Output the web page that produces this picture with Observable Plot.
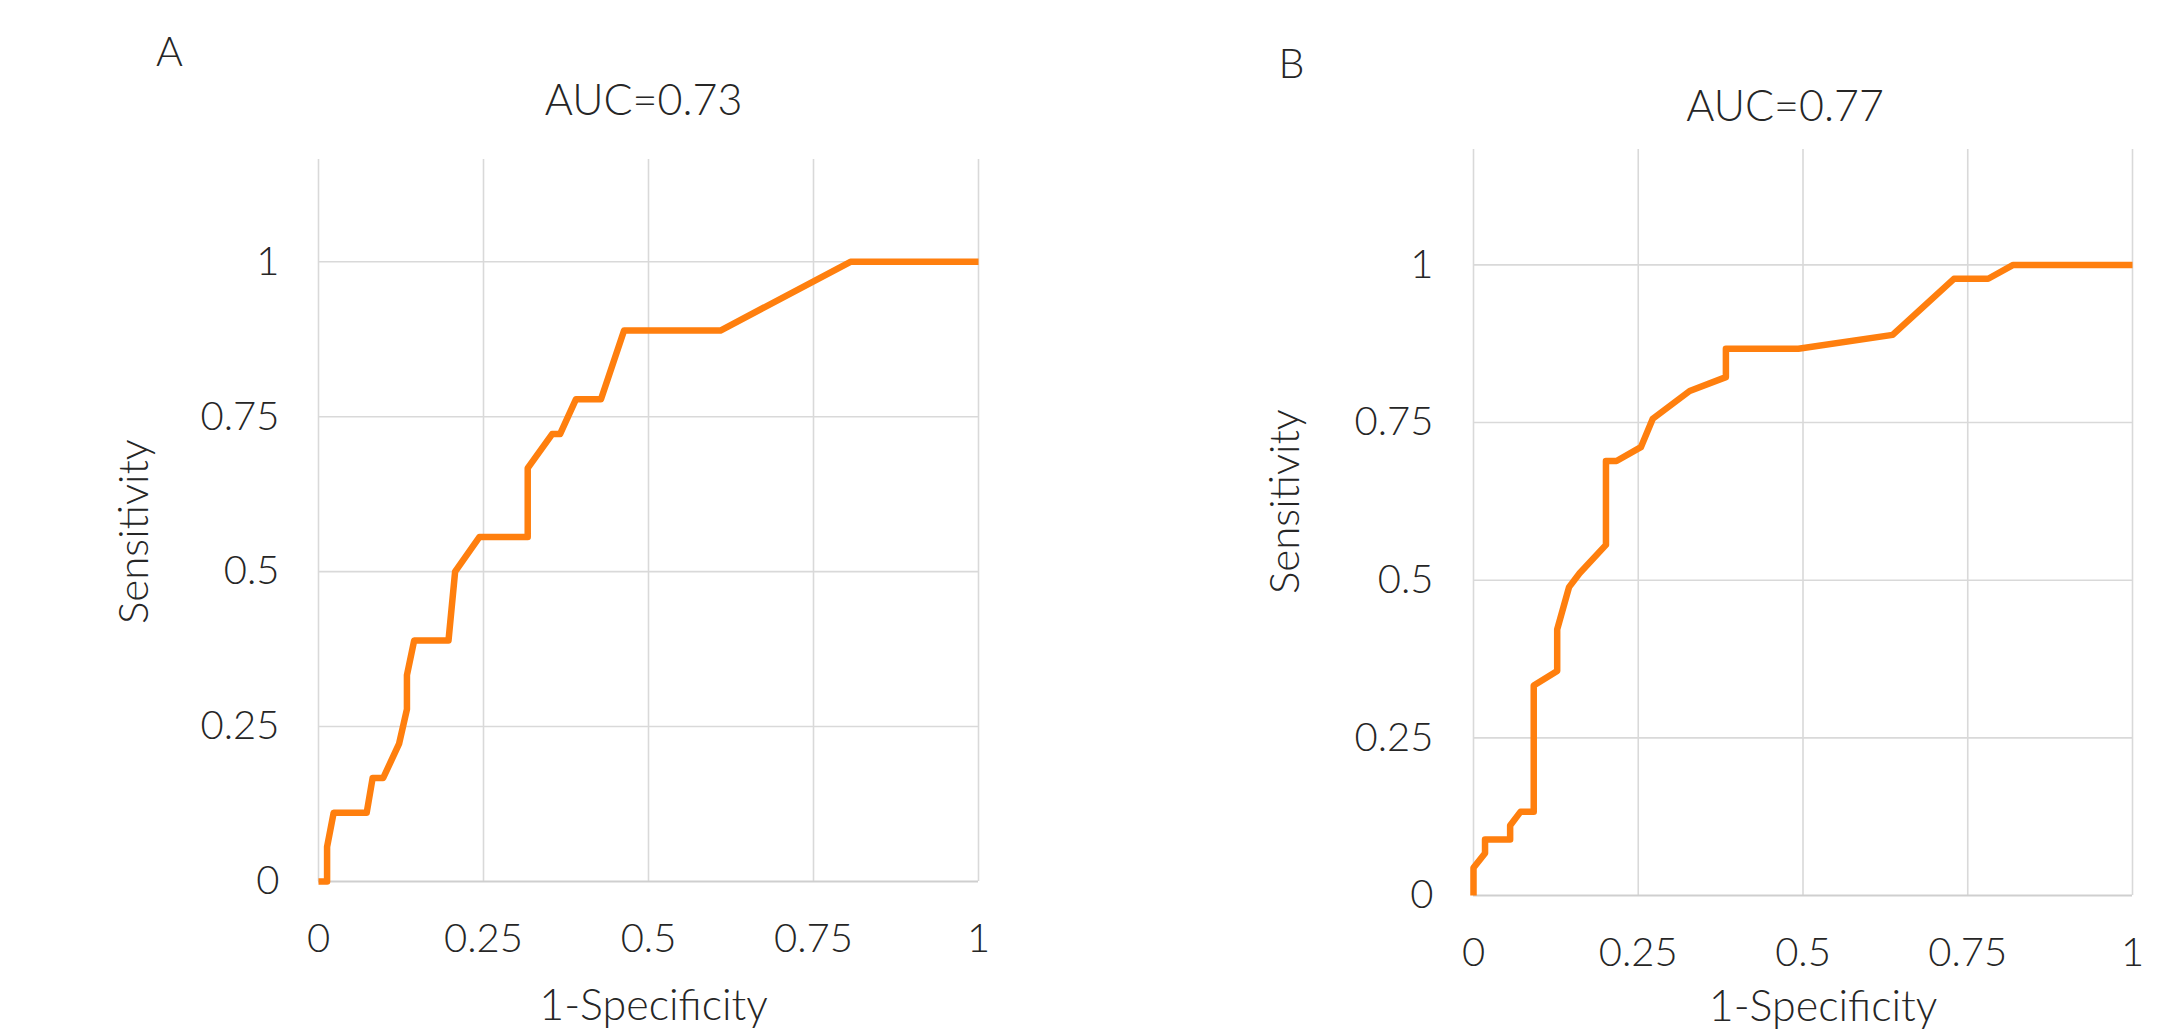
<!DOCTYPE html>
<html>
<head>
<meta charset="utf-8">
<script src="https://cdn.jsdelivr.net/npm/d3@7"></script>
<script src="https://cdn.jsdelivr.net/npm/@observablehq/plot@0.6"></script>
<style>
html, body { margin: 0; padding: 0; background: #fff; }
#wrap { position: relative; width: 2169px; height: 1030px; overflow: hidden; background: #fff; }
#a, #b { position: absolute; top: 0; }
#a { left: 0; }
#b { left: 1060px; }
</style>
</head>
<body>
<div id="wrap"><div id="a"></div><div id="b"></div></div>
<script>
// ---- data ----
const panelLetters = ["A", "B"];
const aucTitles = ["AUC=0.73", "AUC=0.77"];
const xLabel = "1-Specificity";
const yLabel = "Sensitivity";
const xTicks = [0, 0.25, 0.5, 0.75, 1];
const yTicks = [0, 0.25, 0.5, 0.75, 1];

const fprA = [0, 0.013, 0.013, 0.023, 0.073, 0.082, 0.098, 0.122, 0.134, 0.134, 0.145, 0.197, 0.207, 0.244, 0.317, 0.317, 0.354, 0.366, 0.39, 0.428, 0.463, 0.609, 0.806, 1];
const tprA = [0, 0, 0.056, 0.111, 0.111, 0.167, 0.167, 0.222, 0.278, 0.333, 0.389, 0.389, 0.5, 0.556, 0.556, 0.667, 0.722, 0.722, 0.778, 0.778, 0.889, 0.889, 1, 1];

const fprB = [0, 0, 0.0175, 0.0175, 0.0556, 0.0556, 0.0715, 0.0914, 0.0914, 0.127, 0.127, 0.145, 0.161, 0.201, 0.201, 0.217, 0.254, 0.272, 0.328, 0.383, 0.383, 0.493, 0.636, 0.729, 0.781, 0.819, 1];
const tprB = [0, 0.044, 0.067, 0.089, 0.089, 0.111, 0.133, 0.133, 0.333, 0.356, 0.422, 0.489, 0.511, 0.556, 0.689, 0.689, 0.711, 0.756, 0.8, 0.822, 0.867, 0.867, 0.889, 0.978, 0.978, 1, 1];

const lineColor = "#ff7f0e";
const gridColor = "#d9d9d9";
const textColor = "#262626";
const font = "Lato, 'Open Sans', sans-serif";

function panel(fpr, tpr, letter, title, cfg) {
  const data = fpr.map((x, i) => ({fpr: x, tpr: tpr[i]}));
  return Plot.plot({
    width: cfg.width,
    height: 1030,
    marginLeft: cfg.ml,
    marginRight: cfg.mr,
    marginTop: cfg.mt,
    marginBottom: cfg.mb,
    style: {fontFamily: font, fontWeight: 300, color: textColor, background: "white", overflow: "visible"},
    x: {domain: [0, 1]},
    y: {domain: [0, cfg.ymax]},
    marks: [
      Plot.gridX(xTicks, {stroke: gridColor, strokeOpacity: 1, strokeWidth: 1.6}),
      Plot.gridY(yTicks.filter(d => d > 0), {stroke: gridColor, strokeOpacity: 1, strokeWidth: 1.6}),
      Plot.ruleY([0], {stroke: "#cfcfcf", strokeWidth: 2.2}),
      Plot.line(data, {x: "fpr", y: "tpr", stroke: lineColor, strokeWidth: 6.5, strokeLinejoin: "round", strokeLinecap: "butt"}),
      Plot.axisX(xTicks, {tickSize: 0, tickPadding: 42, tickFormat: d => String(d), fontSize: 40, label: null, fill: textColor}),
      Plot.axisY(yTicks, {tickSize: 0, tickPadding: cfg.ypad, tickFormat: d => String(d), fontSize: 40, label: null, fill: textColor}),
      Plot.text([title], {text: d => d, frameAnchor: "top", dx: cfg.tdx, dy: cfg.tdy, fontSize: 43, lineAnchor: "middle", fill: textColor}),
      Plot.text([letter], {text: d => d, frameAnchor: "top-left", dx: cfg.ldx, dy: cfg.ldy, fontSize: 41, textAnchor: "middle", lineAnchor: "middle", fill: textColor}),
      Plot.text([yLabel], {text: d => d, frameAnchor: "left", dx: cfg.ydx, dy: cfg.ydy, rotate: -90, fontSize: 42, lineAnchor: "middle", textAnchor: "middle", fill: textColor}),
      Plot.text([xLabel], {text: d => d, frameAnchor: "bottom", dx: cfg.xdx, dy: cfg.xdy, fontSize: 43, lineAnchor: "middle", fill: textColor})
    ]
  });
}

document.getElementById("a").append(panel(fprA, tprA, panelLetters[0], aucTitles[0], {
  width: 1060, ml: 318, mr: 82, mt: 159, mb: 149, ymax: 1.165, ypad: 39,
  tdx: -5, tdy: -58, ldx: -149, ldy: -107, ydx: -184, ydy: 11, xdx: 5, xdy: 125
}));
document.getElementById("b").append(panel(fprB, tprB, panelLetters[1], aucTitles[1], {
  width: 1109, ml: 413, mr: 37, mt: 149, mb: 135, ymax: 1.183, ypad: 40,
  tdx: -18, tdy: -42, ldx: -182, ldy: -85, ydx: -188, ydy: -21, xdx: 20, xdy: 112
}));
</script>
</body>
</html>
